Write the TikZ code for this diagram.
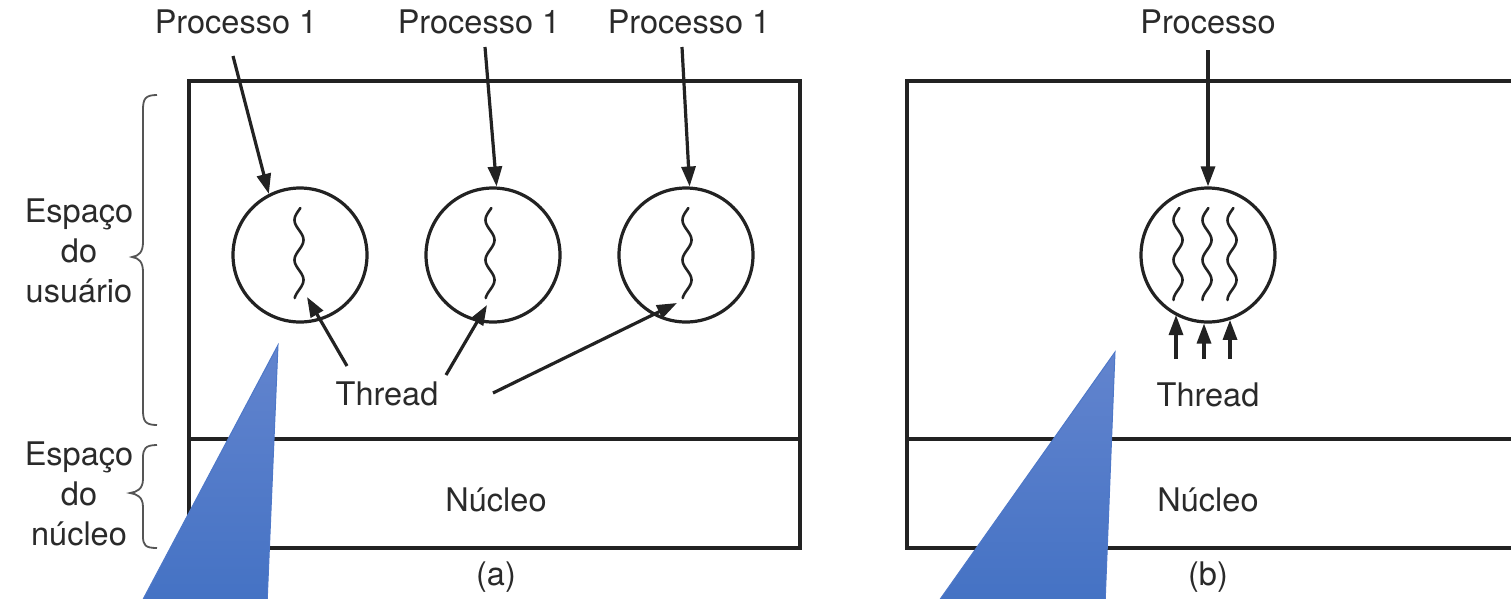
\documentclass[tikz,border=0pt]{standalone}
\usepackage{fontspec}
\setmainfont{TeX Gyre Heros}
\usetikzlibrary{arrows.meta}
\definecolor{ink}{HTML}{222222}
\definecolor{txt}{HTML}{2A2A2A}
\definecolor{bracecol}{HTML}{555555}
\definecolor{tailtop}{RGB}{98,132,206}
\definecolor{tailbot}{RGB}{68,114,196}
\definecolor{tailedge}{RGB}{78,120,200}
\begin{document}
\begin{tikzpicture}[x=1pt,y=-1pt,
  frame/.style={draw=ink, line width=4pt},
  proc/.style={circle, draw=ink, line width=3.2pt, minimum size=134pt, inner sep=0pt},
  lbl/.style={text=txt, font=\fontsize{32.5}{40}\selectfont, inner sep=0pt},
  arr/.style={draw=ink, line width=3.2pt, -{Triangle[length=20pt,width=14pt]}},
  wave/.style={draw=ink, line width=2.6pt, line cap=round},
  bracepath/.style={draw=bracecol, line width=1.8pt},
  tail/.style={draw=tailedge, line width=1pt, top color=tailtop, bottom color=tailbot}]
\useasboundingbox (0,0) rectangle (1511,598);
\clip (0,0) rectangle (1511,598);

% ---------- (a) one thread per process ----------
\draw[frame] (189,81) rectangle (800,548);
\draw[frame] (189,439) -- (800,439);

\node[proc] (c1) at (300,255) {};
\node[proc] (c2) at (493,255) {};
\node[proc] (c3) at (686,255) {};

\foreach \cx in {299,490,687}
  \draw[wave] plot[domain=208:298, samples=60, variable=\t]
    ({\cx+4.5*sin(9*(\t-208)+162)}, {\t});

\node[lbl, anchor=base] (p1) at (236,33) {Processo 1};
\node[lbl, anchor=base] (p2) at (479,33) {Processo 1};
\node[lbl, anchor=base] (p3) at (689,33) {Processo 1};
\coordinate (p1s) at (233,56);
\coordinate (p2s) at (485,47);
\coordinate (p3s) at (682,47);
\draw[arr] (p1s) -- (c1.117);
\draw[arr] (p2s) -- (c2.87);
\draw[arr] (p3s) -- (c3.87);

\node[lbl, anchor=base] (ta) at (387,405) {Thread};
\coordinate (ta1) at (347,366);
\coordinate (ta2) at (446,375);
\coordinate (ta3) at (493,393);
\coordinate (th1) at (307,297);
\coordinate (th2) at (487,305);
\coordinate (th3) at (677,303);
\draw[arr] (ta1) -- (th1);
\draw[arr] (ta2) -- (th2);
\draw[arr] (ta3) -- (th3);

\node[lbl, anchor=base] (ka) at (496,511) {Núcleo};
\node[lbl, anchor=base] (capa) at (496,585) {(a)};

% space labels and braces
\node[lbl, align=center] (us) at (79,251) {Espaço\\do\\usuário};
\node[lbl, align=center] (ks) at (79,494) {Espaço\\do\\núcleo};
\draw[bracepath] (157,95) .. controls (145,95) and (143,99) .. (143,110)
  -- (143,242) .. controls (143,252) and (139,256) .. (132,257)
  .. controls (139,258) and (143,262) .. (143,272)
  -- (143,410) .. controls (143,421) and (145,425) .. (157,425);
\draw[bracepath] (157,445) .. controls (145,445) and (143,449) .. (143,458)
  -- (143,479) .. controls (143,489) and (137,492) .. (130,493)
  .. controls (137,494) and (143,497) .. (143,507)
  -- (143,536) .. controls (143,545) and (145,548) .. (157,548);

% ---------- (b) several threads in one process ----------
\draw[frame] (1530,81) -- (907,81) -- (907,548) -- (1530,548);
\draw[frame] (907,439) -- (1530,439);

\node[proc] (cb) at (1208,255) {};
\foreach \cx in {1178,1207,1232}
  \draw[wave] plot[domain=208:300, samples=60, variable=\t]
    ({\cx+4.5*sin(9*(\t-208)+162)}, {\t});

\node[lbl, anchor=base] (pb) at (1208,33) {Processo};
\coordinate (pbs) at (1208,50);
\draw[arr] (pbs) -- (cb.north);

\node[lbl, anchor=base] (tb) at (1208,406) {Thread};
\coordinate (tb1) at (1176,359);
\coordinate (tb2) at (1204,359);
\coordinate (tb3) at (1230,359);
\draw[arr] (tb1) -- (tb1 |- cb.241);
\draw[arr] (tb2) -- (tb2 |- cb.267);
\draw[arr] (tb3) -- (tb3 |- cb.289);

\node[lbl, anchor=base] (kb) at (1208,511) {Núcleo};
\node[lbl, anchor=base] (capb) at (1208,585) {(b)};

% ---------- callout tails ----------
\path[tail] (278,345) -- (267,605) -- (140,605) -- cycle;
\path[tail] (1115,352) -- (1105,605) -- (936,605) -- cycle;
\end{tikzpicture}
\end{document}
